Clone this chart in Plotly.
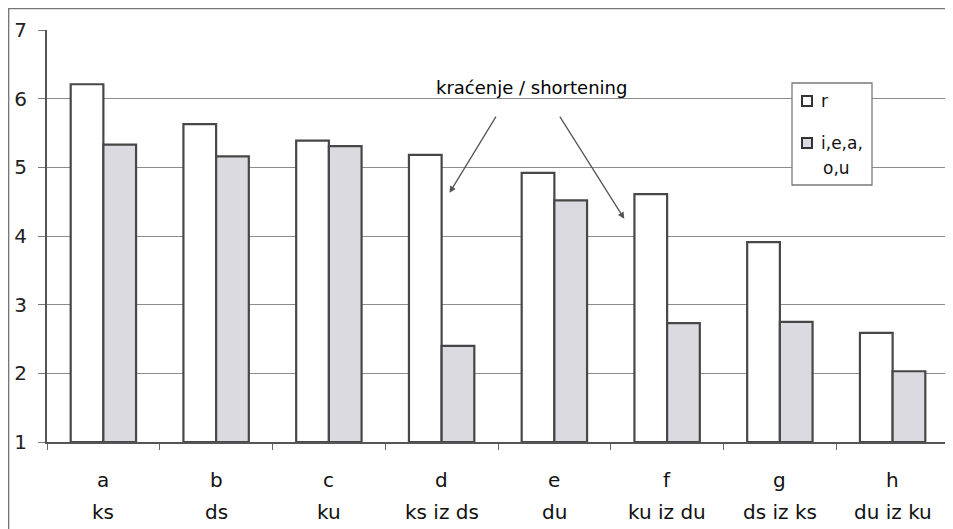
import plotly.graph_objects as go

letters = ["a", "b", "c", "d", "e", "f", "g", "h"]
groups = ["ks", "ds", "ku", "ks iz ds", "du", "ku iz du", "ds iz ks", "du iz ku"]
r_vals = [6.21, 5.63, 5.39, 5.18, 4.92, 4.61, 3.91, 2.59]
v_vals = [5.33, 5.16, 5.31, 2.40, 4.52, 2.73, 2.75, 2.03]
y_ticks = [1, 2, 3, 4, 5, 6, 7]
series_names = ["r", "i,e,a,", "o,u"]
note_text = "kraćenje / shortening"

cats = [f"{l}|{g}" for l, g in zip(letters, groups)]
base = 1

font_family = "DejaVu Sans, Liberation Sans, Arial, sans-serif"
outline = "#474747"
r_fill = "white"
v_fill = "#dcdae1"

# plot area in page pixels (page has an 8px body margin)
PX0, PX1, PY0, PY1 = 47, 949, 30, 442


def px(x):
    return (x - PX0) / (PX1 - PX0)


def py(y):
    return (PY1 - y) / (PY1 - PY0)


fig = go.Figure()
fig.add_trace(go.Bar(
    x=cats, y=[v - base for v in r_vals], base=base, name=series_names[0],
    marker=dict(color=r_fill, line=dict(color=outline, width=2.2)),
))
fig.add_trace(go.Bar(
    x=cats, y=[v - base for v in v_vals], base=base, name="i,e,a, o,u",
    marker=dict(color=v_fill, line=dict(color=outline, width=2.2)),
))

# category labels (two lines)
lab_font = dict(size=20, color="#111", family=font_family)
for c, l, g in zip(cats, letters, groups):
    fig.add_annotation(x=c, y=py(480), xref="x", yref="paper", text=l, showarrow=False,
                       font=lab_font, yanchor="middle")
    fig.add_annotation(x=c, y=py(512), xref="x", yref="paper", text=g, showarrow=False,
                       font=lab_font, yanchor="middle")

# shortening note with arrows
fig.add_annotation(x=px(531), y=py(87), xref="paper", yref="paper", text=note_text, showarrow=False,
                   font=dict(size=18, color="#000", family=font_family),
                   yanchor="middle")
fig.add_annotation(x=3.07, y=4.63, ax=3.49, ay=5.76, xref="x", yref="y", axref="x", ayref="y",
                   text="", showarrow=True, arrowhead=2, arrowsize=1, arrowwidth=1.3,
                   arrowcolor="#555")
fig.add_annotation(x=4.62, y=4.25, ax=4.04, ay=5.76, xref="x", yref="y", axref="x", ayref="y",
                   text="", showarrow=True, arrowhead=2, arrowsize=1, arrowwidth=1.3,
                   arrowcolor="#555")

# legend drawn as box + swatches + text
fig.add_shape(type="rect", xref="paper", yref="paper", x0=px(792), x1=px(872), y0=py(185), y1=py(83),
              line=dict(color="#7a7a7a", width=1.3), fillcolor="white", layer="above")
fig.add_shape(type="rect", xref="paper", yref="paper", x0=px(802), x1=px(812), y0=py(106), y1=py(96),
              line=dict(color="#333", width=2), fillcolor=r_fill, layer="above")
fig.add_shape(type="rect", xref="paper", yref="paper", x0=px(802), x1=px(812), y0=py(148), y1=py(138),
              line=dict(color="#333", width=2), fillcolor=v_fill, layer="above")
leg_font = dict(size=17, color="#111", family=font_family)
fig.add_annotation(x=px(819), y=py(101), xref="paper", yref="paper", text=series_names[0],
                   showarrow=False, xanchor="left", yanchor="middle", font=leg_font)
fig.add_annotation(x=px(819), y=py(143), xref="paper", yref="paper", text=series_names[1],
                   showarrow=False, xanchor="left", yanchor="middle", font=leg_font)
fig.add_annotation(x=px(836), y=py(168), xref="paper", yref="paper", text=series_names[2],
                   showarrow=False, xanchor="center", yanchor="middle", font=leg_font)

# outer chart frame
fig.add_shape(type="rect", xref="paper", yref="paper", x0=px(8.6), x1=px(950), y0=py(560), y1=py(8.6),
              line=dict(color="#777", width=1.5), fillcolor="rgba(0,0,0,0)", layer="below")

fig.update_layout(
    width=945, height=521,
    margin=dict(l=39, r=4, t=22, b=87),
    paper_bgcolor="white", plot_bgcolor="white",
    barmode="group", bargap=0.42, bargroupgap=0,
    font=dict(family=font_family, color="#111"),
    showlegend=False,
)
fig.update_xaxes(
    type="category", showticklabels=False, tickson="boundaries",
    ticks="outside", ticklen=6, tickcolor="#666",
    showline=True, linecolor="#555", linewidth=2, showgrid=False,
    range=[-0.5, len(cats) - 0.5],
)
fig.update_yaxes(
    range=[1, 7], tickvals=y_ticks, ticks="outside", ticklen=7, tickcolor="#777",
    showline=True, linecolor="#555", linewidth=2,
    showgrid=True, gridcolor="#8c8c8c", gridwidth=1,
    tickfont=dict(size=20, color="#222", family=font_family),
    ticklabelstandoff=7, zeroline=False,
)

fig.write_html("out.html")
